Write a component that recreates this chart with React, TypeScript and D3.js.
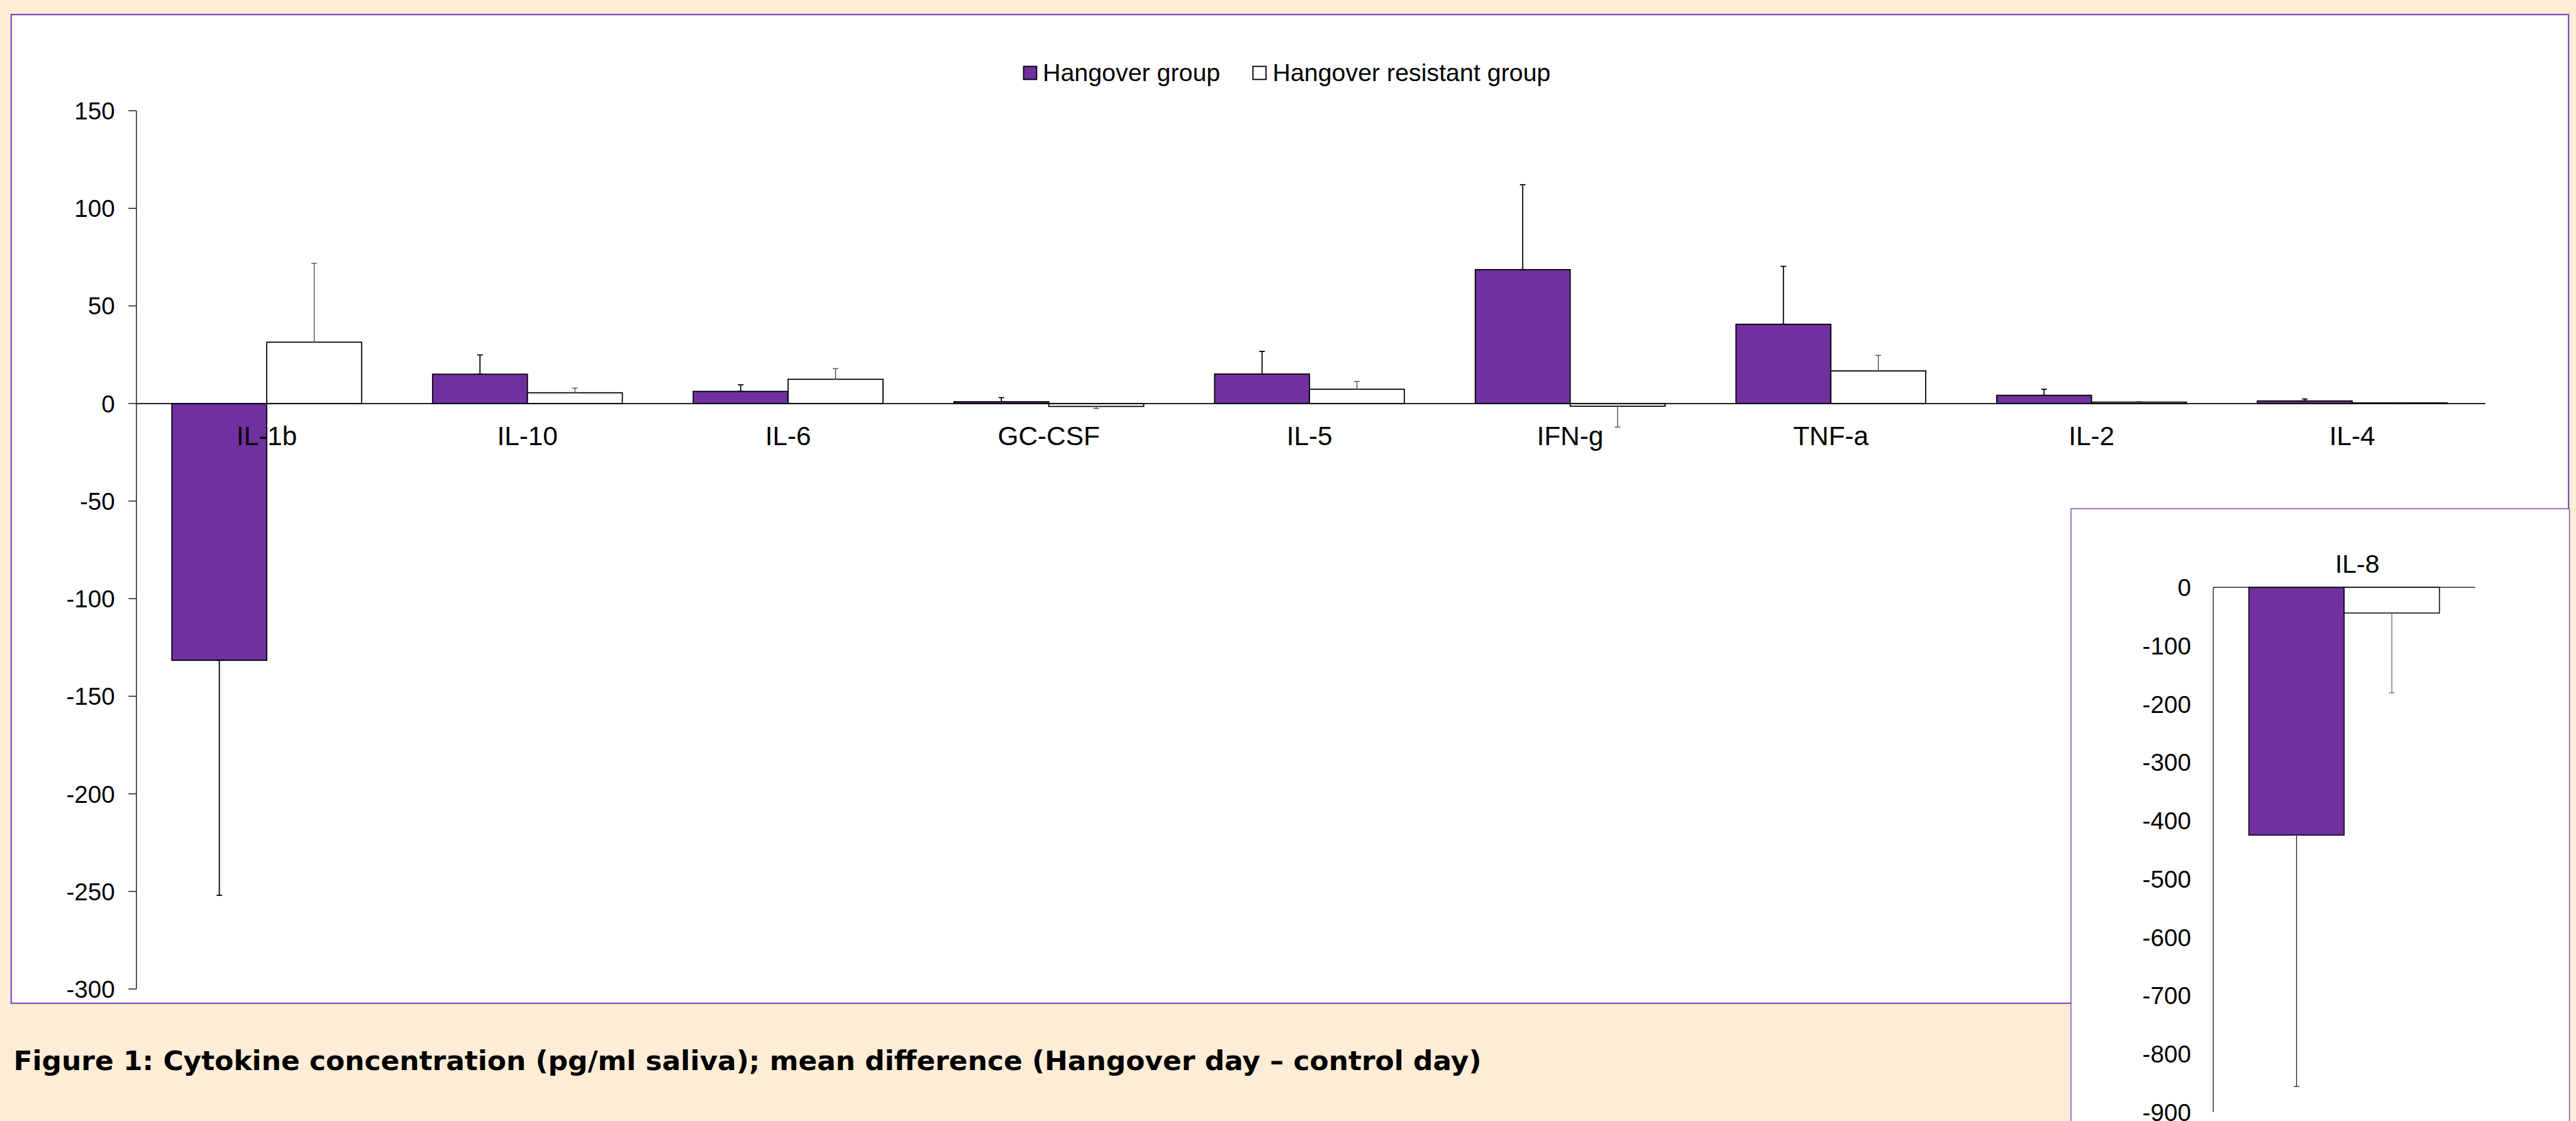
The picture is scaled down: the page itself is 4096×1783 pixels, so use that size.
import { useEffect } from 'react';
import * as d3 from 'd3';

const categories = ['IL-1b', 'IL-10', 'IL-6', 'GC-CSF', 'IL-5', 'IFN-g', 'TNF-a', 'IL-2', 'IL-4'];
const hangover = [-131.6, 15.0, 6.2, 0.9, 15.1, 68.6, 40.6, 4.2, 1.3];
const hangoverErr = [120.4, 9.9, 3.4, 2.1, 11.6, 43.5, 29.7, 3.1, 1.0];
const resistant = [31.4, 5.5, 12.4, -1.5, 7.3, -1.4, 16.7, 0.7, 0.3];
const resistantErr = [40.4, 2.4, 5.5, 1.0, 4.0, 10.7, 8.0, 0.3, 0.2];
const yTicks = [150, 100, 50, 0, -50, -100, -150, -200, -250, -300];

const insetCategories = ['IL-8'];
const insetHangover = [-425];
const insetHangoverErr = [431];
const insetResistant = [-44];
const insetResistantErr = [137];
const insetTicks = [0, -100, -200, -300, -400, -500, -600, -700, -800, -900];

const seriesNames = ['Hangover group', 'Hangover resistant group'];
const caption =
  'Figure 1: Cytokine concentration (pg/ml saliva); mean difference (Hangover day \u2013 control day)';

// drawing is done in the reference's own units, the viewBox scales it to the window
const W = 5514;
const H = 2400;
const BG = '#FDECD6';
const FRAME = '#7E4BB8';
const PURPLE = '#7030A0';
const SANS = "'Liberation Sans', Arial, sans-serif";

type ErrProps = {
  x: number;
  v: number;
  e: number;
  y: (n: number) => number;
  stroke: string;
  width: number;
};

function ErrorBar({ x, v, e, y, stroke, width }: ErrProps) {
  const end = v < 0 ? v - e : v + e;
  const cap = 6;
  return (
    <g stroke={stroke} strokeWidth={width}>
      <line x1={x} x2={x} y1={y(v)} y2={y(end)} />
      <line x1={x - cap} x2={x + cap} y1={y(end)} y2={y(end)} />
      <line x1={x - cap} x2={x + cap} y1={y(v)} y2={y(v)} />
    </g>
  );
}

export default function App() {
  useEffect(() => {
    document.body.style.margin = '0';
    document.body.style.overflow = 'hidden';
  }, []);

  const margin = { left: 292, right: 5314, top: 237, bottom: 2117.5 };

  const x = d3
    .scaleBand<string>()
    .domain(categories)
    .range([margin.left, margin.right])
    .paddingInner(0.272)
    .paddingOuter(0.136);
  const sub = d3.scaleBand<number>().domain([0, 1]).range([0, x.bandwidth()]);
  const y = d3.scaleLinear().domain([-300, 150]).range([margin.bottom, margin.top]);

  const ix = d3
    .scaleBand<string>()
    .domain(insetCategories)
    .range([4737.5, 5298])
    .paddingInner(0.272)
    .paddingOuter(0.136);
  const isub = d3.scaleBand<number>().domain([0, 1]).range([0, ix.bandwidth()]);
  const iy = d3.scaleLinear().domain([-900, 0]).range([2381, 1257.5]);

  const bar = (v: number, yy: (n: number) => number) => ({
    top: Math.min(yy(v), yy(0)),
    h: Math.abs(yy(v) - yy(0)),
  });

  const series = [
    { vals: hangover, errs: hangoverErr, fill: PURPLE, es: '#000', ew: 2.4 },
    { vals: resistant, errs: resistantErr, fill: '#fff', es: '#333', ew: 1.6 },
  ];
  const insetSeries = [
    { vals: insetHangover, errs: insetHangoverErr, fill: PURPLE, es: '#222', ew: 1.8 },
    { vals: insetResistant, errs: insetResistantErr, fill: '#fff', es: '#444', ew: 1.4 },
  ];

  return (
    <svg
      width={4096}
      height={1783}
      viewBox={`0 0 ${W} ${H}`}
      style={{ display: 'block', position: 'absolute', left: 0, top: 0 }}
    >
      <rect x={0} y={0} width={W} height={H} fill={BG} />
      <rect x={24} y={31} width={5474} height={2117} fill="#fff" stroke={FRAME} strokeWidth={3} />

      {/* legend */}
      <g fontFamily={SANS} fontSize={53}>
        <rect x={2191} y={142} width={28} height={28} fill={PURPLE} stroke="#000" strokeWidth={2.5} />
        <text x={2232} y={173}>{seriesNames[0]}</text>
        <rect x={2682} y={142} width={28} height={28} fill="#fff" stroke="#000" strokeWidth={2.5} />
        <text x={2724} y={173}>{seriesNames[1]}</text>
      </g>

      {/* y axis */}
      <line x1={margin.left} x2={margin.left} y1={y(150)} y2={y(-300)} stroke="#000" strokeWidth={1.8} />
      {yTicks.map((t) => (
        <g key={t}>
          <line x1={margin.left - 17} x2={margin.left} y1={y(t)} y2={y(t)} stroke="#000" strokeWidth={1.8} />
          <text
            x={246}
            y={y(t) + 0.36 * 52}
            textAnchor="end"
            fontFamily={SANS}
            fontSize={52}
          >
            {t}
          </text>
        </g>
      ))}

      {/* bars */}
      {categories.map((c, i) => (
        <g key={c}>
          {series.map((s, k) => {
            const b = bar(s.vals[i], y);
            const bx = (x(c) ?? 0) + (sub(k) ?? 0);
            return (
              <rect
                key={k}
                x={bx}
                y={b.top}
                width={sub.bandwidth()}
                height={Math.max(b.h, 0.5)}
                fill={s.fill}
                stroke="#000"
                strokeWidth={2.4}
              />
            );
          })}
        </g>
      ))}
      <line x1={margin.left} x2={5320} y1={y(0)} y2={y(0)} stroke="#000" strokeWidth={2.4} />
      {categories.map((c, i) =>
        series.map((s, k) => (
          <ErrorBar
            key={`${c}-${k}`}
            x={(x(c) ?? 0) + (sub(k) ?? 0) + sub.bandwidth() / 2}
            v={s.vals[i]}
            e={s.errs[i]}
            y={y}
            stroke={s.es}
            width={s.ew}
          />
        )),
      )}
      {categories.map((c) => (
        <text
          key={c}
          x={(x(c) ?? 0) + x.bandwidth() / 2}
          y={y(0) + 89}
          textAnchor="middle"
          fontFamily={SANS}
          fontSize={57}
        >
          {c}
        </text>
      ))}

      {/* caption */}
      <text
        x={29}
        y={2291}
        fontFamily="'DejaVu Sans', Verdana, sans-serif"
        fontWeight="bold"
        fontSize={58}
        textLength={3142}
        lengthAdjust="spacingAndGlyphs"
      >
        {caption}
      </text>

      {/* inset for IL-8 */}
      <rect x={4433} y={1089} width={1067} height={1400} fill="#fff" stroke={FRAME} strokeWidth={2} />
      <text
        x={(ix(insetCategories[0]) ?? 0) + ix.bandwidth() / 2 + 28}
        y={1226}
        textAnchor="middle"
        fontFamily={SANS}
        fontSize={55}
      >
        {insetCategories[0]}
      </text>
      <line x1={4737.5} x2={4737.5} y1={iy(0)} y2={iy(-900)} stroke="#000" strokeWidth={1.6} />
      {insetTicks.map((t) => (
        <text
          key={t}
          x={4690}
          y={iy(t) + 0.36 * 52}
          textAnchor="end"
          fontFamily={SANS}
          fontSize={52}
        >
          {t}
        </text>
      ))}
      {insetCategories.map((c, i) =>
        insetSeries.map((s, k) => {
          const b = bar(s.vals[i], iy);
          return (
            <rect
              key={`${c}-${k}`}
              x={(ix(c) ?? 0) + (isub(k) ?? 0)}
              y={b.top}
              width={isub.bandwidth()}
              height={b.h}
              fill={s.fill}
              stroke="#000"
              strokeWidth={2}
            />
          );
        }),
      )}
      <line x1={4737.5} x2={5298} y1={iy(0)} y2={iy(0)} stroke="#000" strokeWidth={1.6} />
      {insetCategories.map((c, i) =>
        insetSeries.map((s, k) => (
          <ErrorBar
            key={`${c}-e-${k}`}
            x={(ix(c) ?? 0) + (isub(k) ?? 0) + isub.bandwidth() / 2}
            v={s.vals[i]}
            e={s.errs[i]}
            y={iy}
            stroke={s.es}
            width={s.ew}
          />
        )),
      )}
    </svg>
  );
}
